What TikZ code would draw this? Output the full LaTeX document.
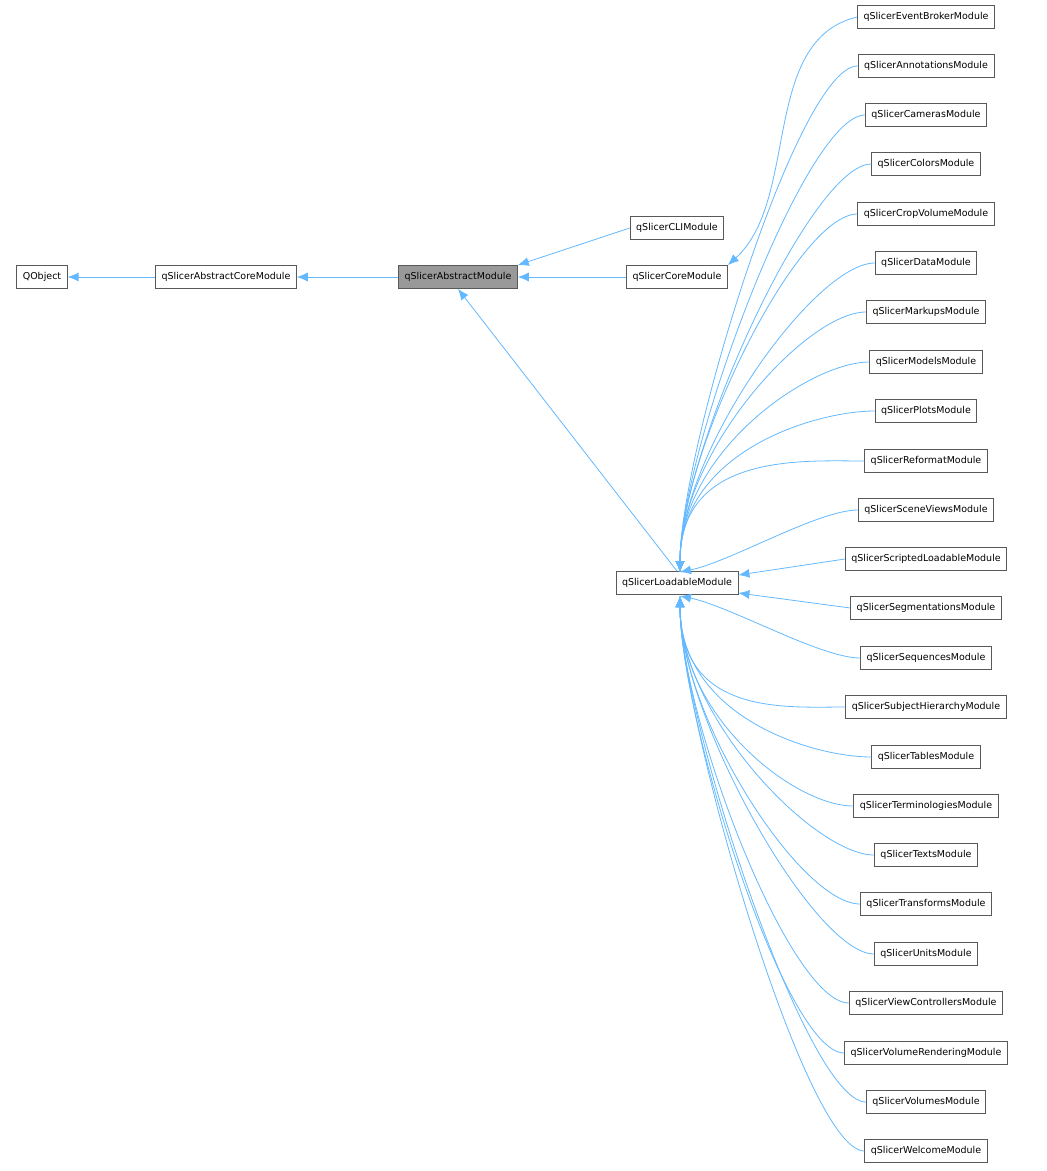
\documentclass[tikz,border=0pt]{standalone}
\usepackage{fontspec}
\setmainfont{DejaVu Sans}
\usetikzlibrary{arrows.meta}
\definecolor{edge}{HTML}{63B8FF}
\tikzset{
 cls/.style={draw=black!65, fill=white, font=\fontsize{9.5}{11}\selectfont, inner xsep=6pt, minimum height=23pt, inner ysep=0pt, line width=0.8pt},
 inh/.style={draw=edge, line width=0.8pt, -{Latex[length=11pt,width=9pt]}},
}
\begin{document}
\begin{tikzpicture}[x=1pt,y=-1pt]
\useasboundingbox (0,0) rectangle (1047,1171);
\node[cls] (qo) at (42,277) {QObject};
\node[cls] (ac) at (226,277) {qSlicerAbstractCoreModule};
\node[cls, fill=black!40] (am) at (458,277) {qSlicerAbstractModule};
\node[cls] (cli) at (677,228) {qSlicerCLIModule};
\node[cls] (core) at (677,277) {qSlicerCoreModule};
\node[cls] (lm) at (677,583) {qSlicerLoadableModule};
\draw[inh] (ac) -- (qo);
\draw[inh] (am) -- (ac);
\draw[inh] (cli.west) -- (am.north east);
\draw[inh] (core) -- (am);
\draw[inh] (lm.north) -- (am.south);
\coordinate (lt) at (680,572);
\coordinate (lb) at (680,596);
\foreach \n/\t/\y in {
 a/qSlicerEventBrokerModule/17, b/qSlicerAnnotationsModule/66, c/qSlicerCamerasModule/115,
 d/qSlicerColorsModule/164, e/qSlicerCropVolumeModule/214, f/qSlicerDataModule/263,
 g/qSlicerMarkupsModule/312, h/qSlicerModelsModule/362, i/qSlicerPlotsModule/411,
 j/qSlicerReformatModule/461, k/qSlicerSceneViewsModule/510, l/qSlicerScriptedLoadableModule/559,
 m/qSlicerSegmentationsModule/608, n/qSlicerSequencesModule/658, o/qSlicerSubjectHierarchyModule/707,
 p/qSlicerTablesModule/757, q/qSlicerTerminologiesModule/806, r/qSlicerTextsModule/855,
 s/qSlicerTransformsModule/904, t/qSlicerUnitsModule/954, u/qSlicerViewControllersModule/1003,
 v/qSlicerVolumeRenderingModule/1053, w/qSlicerVolumesModule/1102, x/qSlicerWelcomeModule/1151}
 { \node[cls] (\n) at (926,\y) {\t}; }
\draw[inh] (a.west) .. controls (760,40) and (800,200) .. (core.north east);
\foreach \n in {b,c,d,e,f,g,h,i,j}
 \draw[inh] (\n.west) .. controls +(-60,0) and +(0,-120) .. (lt);
\draw[inh] (k.west) .. controls +(-40,0) and +(50,-10) .. (lt);
\draw[inh] (l.west) -- (lm.east |- 0,575);
\draw[inh] (m.west) -- (lm.east |- 0,593);
\draw[inh] (n.west) .. controls +(-40,0) and +(50,10) .. (lb);
\foreach \n in {o,p,q,r,s,t,u,v,w,x}
 \draw[inh] (\n.west) .. controls +(-60,0) and +(0,120) .. (lb);
\end{tikzpicture}
\end{document}
